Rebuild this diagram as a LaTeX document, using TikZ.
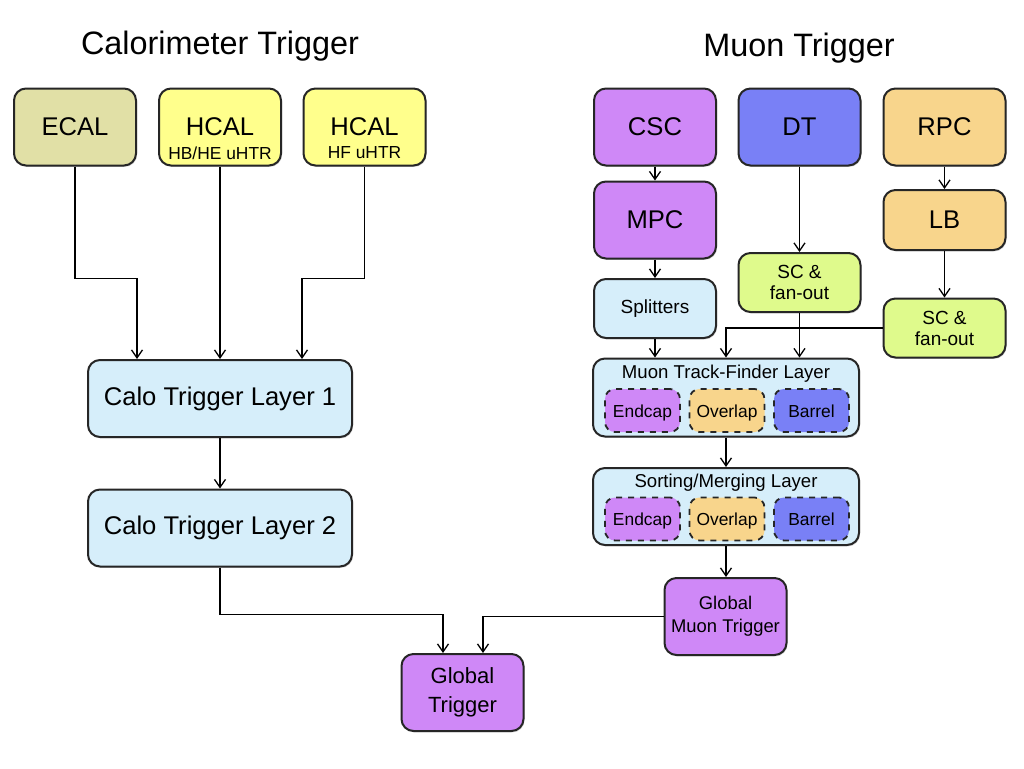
\documentclass[tikz,border=0pt]{standalone}
\usepackage{fontspec}
\setmainfont{Liberation Sans}
\usetikzlibrary{arrows.meta, shadows}

\definecolor{ecalyel}{RGB}{225,224,166}
\definecolor{hcalyel}{RGB}{255,255,140}
\definecolor{cscpur}{RGB}{207,136,247}
\definecolor{dtblue}{RGB}{121,128,246}
\definecolor{rpcorg}{RGB}{248,213,140}
\definecolor{scgreen}{RGB}{223,250,140}
\definecolor{layblue}{RGB}{214,238,250}

\begin{document}
\begin{tikzpicture}[x=0.5pt, y=-0.5pt, >={Straight Barb[length=4pt,width=5.5pt]},
  box/.style={draw=black!85, line width=1pt, rounded corners=6pt, align=center, inner sep=0pt,
    drop shadow={shadow xshift=0.5pt, shadow yshift=-0.7pt, opacity=0.3}},
  detbox/.style={box, minimum width=61pt, minimum height=38.5pt, font=\fontsize{12.8}{15}\selectfont},
  fanbox/.style={box, minimum width=61pt, minimum height=29.5pt, font=\fontsize{9.5}{10.5}\selectfont},
  calobox/.style={box, fill=layblue, minimum width=132pt, minimum height=38.5pt, font=\fontsize{12.8}{15}\selectfont},
  muonlayer/.style={box, fill=layblue, minimum width=133pt, minimum height=39pt},
  subbox/.style={draw=black!85, line width=0.9pt, dashed, rounded corners=5pt, inner sep=0pt,
    text height=1.6ex, text depth=0.35ex,
    minimum width=37.5pt, minimum height=21.5pt, font=\fontsize{8.7}{10}\selectfont},
  glbox/.style={box, fill=cscpur, minimum width=61pt, minimum height=38.5pt},
  flow/.style={->, line width=0.65pt},
  title/.style={font=\fontsize{16.2}{19}\selectfont}]

\useasboundingbox (0,0) rectangle (1024,768);

% --- titles ---
\node[title] (calotitle) at (220,46) {Calorimeter Trigger};
\node[title] (muontitle) at (799,48) {Muon Trigger};

% --- calorimeter inputs ---
\node[detbox, fill=ecalyel] (ecal) at (75,127) {ECAL};
\node[detbox, fill=hcalyel] (hcalb) at (220,127) {};
\node[detbox, fill=hcalyel] (hcalf) at (364.5,127) {};
\node[font=\fontsize{12.8}{15}\selectfont] (hcalbname) at (220,127) {HCAL};
\node[font=\fontsize{8.7}{10}\selectfont] (hcalbsub) at (220,153) {HB/HE uHTR};
\node[font=\fontsize{12.8}{15}\selectfont] (hcalfname) at (364.5,127) {HCAL};
\node[font=\fontsize{8.7}{10}\selectfont] (hcalfsub) at (364.5,153) {HF uHTR};

% --- calo layers ---
\node[calobox] (layerone) at (220,398.5) {Calo Trigger Layer 1};
\node[calobox] (layertwo) at (220,528) {Calo Trigger Layer 2};

% --- muon detectors ---
\node[detbox, fill=cscpur] (csc) at (655,127) {CSC};
\node[detbox, fill=dtblue] (dt) at (799.5,127) {DT};
\node[detbox, fill=rpcorg] (rpc) at (944.5,127) {RPC};
\node[detbox, fill=cscpur] (mpc) at (655,220) {MPC};
\node[detbox, fill=rpcorg, minimum height=30pt] (lb) at (944.5,220) {LB};
\node[fanbox, fill=layblue] (split) at (655,308.5) {Splitters};
\node[fanbox, fill=scgreen] (scdt) at (799.5,282.5) {SC \&\\fan-out};
\node[fanbox, fill=scgreen] (scrpc) at (944.5,328) {SC \&\\fan-out};

% --- track finder and sorting layers ---
\node[muonlayer] (tf) at (726,397.5) {};
\node[font=\fontsize{9.3}{11}\selectfont] (tftitle) at (726,374) {Muon Track-Finder Layer};
\node[subbox, fill=cscpur] (tfend) at (642.5,410.5) {Endcap};
\node[subbox, fill=rpcorg] (tfover) at (727,410.5) {Overlap};
\node[subbox, fill=dtblue] (tfbar) at (811.5,410.5) {Barrel};

\node[muonlayer, minimum height=38.5pt] (sm) at (726,506.5) {};
\node[font=\fontsize{9.3}{11}\selectfont] (smtitle) at (726,483) {Sorting/Merging Layer};
\node[subbox, fill=cscpur] (smend) at (642.5,519) {Endcap};
\node[subbox, fill=rpcorg] (smover) at (727,519) {Overlap};
\node[subbox, fill=dtblue] (smbar) at (811.5,519) {Barrel};

% --- global ---
\node[glbox, font=\fontsize{9.2}{11.5}\selectfont] (gmt) at (725.5,616.5) {Global\\Muon Trigger};
\node[glbox, font=\fontsize{11}{14.5}\selectfont] (gt) at (462.5,692.5) {Global\\Trigger};

% --- calo arrows ---
\draw[flow] (ecal.south) -- ++(0,112) -| ([xshift=-41.5pt]layerone.north);
\draw[flow] (hcalb.south) -- (layerone.north);
\draw[flow] (hcalf.south) -- ++(0,112) -| ([xshift=41pt]layerone.north);
\draw[flow] (layerone.south) -- (layertwo.north);
\draw[flow] (layertwo.south) -- ++(0,47) -| ([xshift=-9.75pt]gt.north);

% --- muon arrows ---
\draw[flow] (csc.south) -- (mpc.north);
\draw[flow] (mpc.south) -- (split.north);
\draw[flow] (split.south) -- (split.south |- tf.north);
\draw[flow] (dt.south) -- (scdt.north);
\draw[flow] (scdt.south) -- (scdt.south |- tf.north);
\draw[flow] (rpc.south) -- (lb.north);
\draw[flow] (lb.south) -- (scrpc.north);
\draw[flow] (scrpc.west) -| (tf.north);
\draw[flow] (tf.south) -- (sm.north);
\draw[flow] (sm.south) -- (sm.south |- gmt.north);
\draw[flow] (gmt.west) -| ([xshift=10.25pt]gt.north);

\end{tikzpicture}
\end{document}
